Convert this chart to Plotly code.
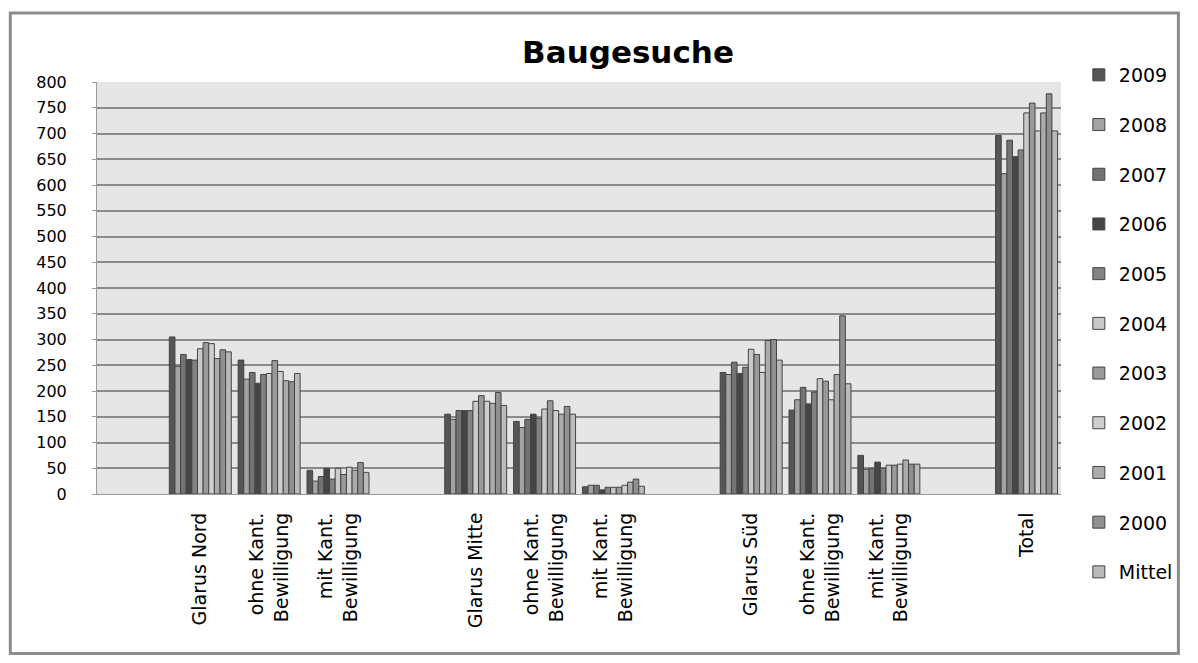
import plotly.graph_objects as go

# Series (legend order) and colours
series = ["2009", "2008", "2007", "2006", "2005", "2004", "2003", "2002", "2001", "2000", "Mittel"]
colors = ["#555555", "#a3a3a3", "#737373", "#454545", "#828282", "#c9c9c9",
          "#9a9a9a", "#cfcfcf", "#ababab", "#909090", "#bababa"]

# Category slots (empty slots are gaps between the regions)
slot_labels = ["", "Glarus Nord", "ohne Kant.<br>Bewilligung", "mit Kant.<br>Bewilligung",
               "", "Glarus Mitte", "ohne Kant.<br>Bewilligung", "mit Kant.<br>Bewilligung",
               "", "Glarus Süd", "ohne Kant.<br>Bewilligung", "mit Kant.<br>Bewilligung",
               "", "Total"]
data_slots = [1, 2, 3, 5, 6, 7, 9, 10, 11, 13]

# Values per category, ordered 2009 ... 2000, Mittel
glarus_nord = [305, 248, 271, 261, 260, 282, 294, 292, 263, 280, 276]
nord_ohne = [260, 223, 236, 215, 232, 234, 259, 238, 220, 218, 234]
nord_mit = [46, 25, 34, 50, 29, 50, 38, 52, 46, 61, 42]
glarus_mitte = [155, 145, 162, 162, 162, 180, 191, 180, 176, 197, 172]
mitte_ohne = [141, 129, 145, 155, 147, 165, 181, 162, 155, 170, 155]
mitte_mit = [14, 17, 17, 8, 13, 13, 13, 17, 23, 29, 15]
glarus_sued = [236, 232, 256, 234, 246, 281, 271, 236, 298, 300, 260]
sued_ohne = [163, 183, 207, 175, 198, 224, 219, 183, 232, 346, 214]
sued_mit = [75, 48, 50, 62, 50, 56, 56, 58, 66, 58, 58]
total = [696, 622, 687, 655, 668, 740, 759, 705, 740, 777, 705]

category_values = [glarus_nord, nord_ohne, nord_mit, glarus_mitte, mitte_ohne, mitte_mit,
                   glarus_sued, sued_ohne, sued_mit, total]

y_ticks = list(range(0, 801, 50))

FONT = "'DejaVu Sans', sans-serif"

fig = go.Figure()
for i, name in enumerate(series):
    fig.add_trace(go.Bar(
        name=name,
        x=data_slots,
        y=[vals[i] for vals in category_values],
        marker=dict(color=colors[i], line=dict(color="#444444", width=1)),
        legendgroup=name,
    ))

# figure is placed 8px in from the page edge (default body margin)
W, H = 1182, 647
L, R, T, B = 89, 120, 74, 161
pw, ph = W - L - R, H - T - B


def px_x(px):
    return (px - L) / pw


def px_y(py):
    return (H - B - py) / ph


fig.update_layout(
    width=W, height=H,
    margin=dict(l=L, r=R, t=T, b=B),
    paper_bgcolor="white",
    plot_bgcolor="#e6e6e6",
    barmode="group",
    bargap=0.1,
    bargroupgap=0,
    font=dict(family=FONT, color="#000000", size=16),
    title=dict(text="<b>Baugesuche</b>", x=620 / W, xref="container", xanchor="center",
               y=1 - 44 / H, yref="container", yanchor="middle",
               font=dict(family=FONT, size=31, color="#000000")),
    legend=dict(x=px_x(1080), y=px_y(48), xanchor="left", yanchor="top",
                font=dict(family=FONT, size=19, color="#000000"),
                tracegroupgap=22, itemwidth=30, bgcolor="rgba(0,0,0,0)",
                traceorder="grouped", maxheight=640),
    xaxis=dict(range=[-0.5, 13.5], tickmode="array",
               tickvals=list(range(len(slot_labels))), ticktext=slot_labels,
               tickangle=-90, showgrid=False, zeroline=False,
               showline=True, linecolor="#9a9a9a", linewidth=1,
               ticks="", ticklabelstandoff=10,
               tickfont=dict(family=FONT, size=19)),
    yaxis=dict(range=[0, 800], tickmode="array", tickvals=y_ticks,
               showgrid=True, gridcolor="#8a8a8a", gridwidth=2,
               zeroline=False, showline=True, linecolor="#9a9a9a", linewidth=1,
               ticks="outside", ticklen=4, tickcolor="#9a9a9a",
               ticklabelstandoff=22,
               tickfont=dict(family=FONT, size=16)),
    shapes=[dict(type="rect", xref="paper", yref="paper",
                 x0=px_x(1.5), x1=px_x(1180.5), y0=px_y(645.5), y1=px_y(5),
                 line=dict(color="#8c8c8c", width=3), fillcolor="rgba(0,0,0,0)",
                 layer="below")],
)

fig.write_html("out.html")
